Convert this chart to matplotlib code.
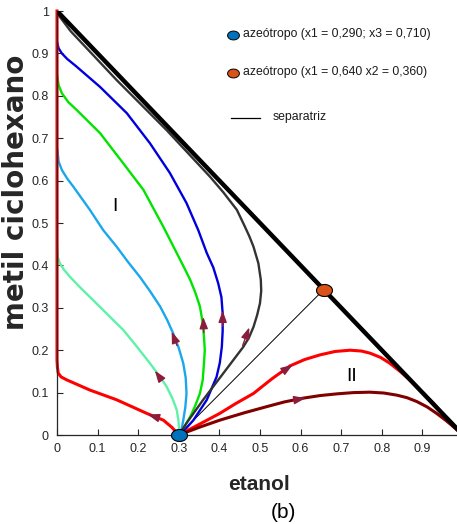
import matplotlib
matplotlib.use("Agg")
import matplotlib.pyplot as plt
import numpy as np

# residue curves (x = etanol, y = metil ciclohexano)
red1_x = [0.30, 0.283, 0.262, 0.221, 0.147, 0.081, 0.024, 0.010, 0.003, 0.001, 0.0, 0.0]
red1_y = [0.0, 0.018, 0.035, 0.051, 0.083, 0.106, 0.130, 0.137, 0.146, 0.160, 0.177, 1.0]

aqua_x = [0.30, 0.301, 0.299, 0.295, 0.284, 0.270, 0.251, 0.229, 0.197, 0.163, 0.126, 0.089, 0.058,
          0.032, 0.017, 0.007, 0.002, 0.0]
aqua_y = [0.0, 0.012, 0.035, 0.059, 0.087, 0.114, 0.141, 0.169, 0.208, 0.248, 0.283, 0.318, 0.347,
          0.373, 0.390, 0.405, 0.420, 0.444]

lblue_x = [0.30, 0.305, 0.311, 0.316, 0.319, 0.317, 0.311, 0.300, 0.286, 0.271, 0.254, 0.230, 0.204,
           0.175, 0.147, 0.114, 0.081, 0.040, 0.025, 0.012, 0.004, 0.001]
lblue_y = [0.0, 0.004, 0.035, 0.065, 0.098, 0.135, 0.169, 0.205, 0.240, 0.272, 0.303, 0.338, 0.373,
           0.408, 0.444, 0.483, 0.531, 0.586, 0.605, 0.625, 0.645, 0.672]

green_x = [0.30, 0.307, 0.328, 0.340, 0.352, 0.359, 0.362, 0.364, 0.362, 0.358, 0.352, 0.341, 0.328,
           0.312, 0.295, 0.262, 0.213, 0.163, 0.106, 0.048, 0.028, 0.012, 0.004, 0.001]
green_y = [0.0, 0.008, 0.043, 0.068, 0.098, 0.130, 0.169, 0.200, 0.232, 0.270, 0.303, 0.335, 0.366,
           0.397, 0.429, 0.491, 0.578, 0.641, 0.712, 0.767, 0.785, 0.806, 0.825, 0.845]

blue_x = [0.30, 0.307, 0.336, 0.369, 0.393, 0.401, 0.406, 0.408, 0.408, 0.405, 0.397, 0.385, 0.369,
          0.348, 0.319, 0.278, 0.229, 0.172, 0.106, 0.048, 0.025, 0.012, 0.004, 0.001]
blue_y = [0.0, 0.004, 0.035, 0.083, 0.137, 0.170, 0.208, 0.245, 0.287, 0.325, 0.358, 0.395, 0.429,
          0.483, 0.547, 0.618, 0.688, 0.759, 0.821, 0.869, 0.887, 0.900, 0.912, 0.924]

gray_x = [0.30, 0.319, 0.360, 0.410, 0.459, 0.473, 0.484, 0.493, 0.500, 0.503, 0.502, 0.496, 0.484,
          0.474, 0.463, 0.443, 0.410, 0.377, 0.27, 0.147, 0.034, 0.0]
gray_y = [0.0, 0.028, 0.083, 0.146, 0.208, 0.230, 0.255, 0.283, 0.311, 0.340, 0.366, 0.405, 0.444,
          0.468, 0.491, 0.531, 0.572, 0.609, 0.719, 0.837, 0.952, 0.995]

red2_x = [0.30, 0.35, 0.401, 0.44, 0.484, 0.53, 0.574, 0.61, 0.648, 0.685, 0.722, 0.75, 0.771, 0.797,
          0.820, 0.845, 0.869, 0.90, 0.927, 0.952, 0.976, 1.0]
red2_y = [0.0, 0.025, 0.051, 0.074, 0.098, 0.133, 0.163, 0.178, 0.189, 0.197, 0.200, 0.198, 0.193,
          0.183, 0.169, 0.150, 0.130, 0.100, 0.075, 0.047, 0.020, 0.0]

dred_x = [0.30, 0.35, 0.401, 0.46, 0.517, 0.56, 0.607, 0.648, 0.689, 0.73, 0.771, 0.805, 0.837, 0.862,
          0.886, 0.912, 0.935, 0.957, 0.976, 1.0]
dred_y = [0.0, 0.018, 0.035, 0.052, 0.067, 0.078, 0.087, 0.093, 0.097, 0.100, 0.101, 0.099, 0.094,
          0.088, 0.079, 0.066, 0.051, 0.035, 0.020, 0.0]

# arrows: (tail_x, tail_y, tip_x, tip_y)
arrows = [(0.245, 0.042, 0.217, 0.050),
          (0.262, 0.124, 0.237, 0.157),
          (0.298, 0.205, 0.280, 0.250),
          (0.362, 0.235, 0.360, 0.285),
          (0.408, 0.250, 0.408, 0.300),
          (0.455, 0.205, 0.476, 0.260),
          (0.545, 0.143, 0.586, 0.169),
          (0.575, 0.081, 0.619, 0.088)]

az1 = (0.30, 0.0)
az2 = (0.657, 0.343)

legend_labels = ["azeótropo (x1 = 0,290; x3 = 0,710)",
                 "azeótropo (x1 = 0,640 x2 = 0,360)",
                 "separatriz"]

sans = ["Liberation Sans", "DejaVu Sans"]

fig = plt.figure(figsize=(4.57, 5.24), dpi=100)
ax = fig.add_axes([57 / 457, 89 / 524, 406 / 457, 424 / 524])
ax.set_xlim(0, 1)
ax.set_ylim(0, 1)

# triangle edge and separatrix
ax.plot([0, 1], [1, 0], color="black", lw=3.2, zorder=3)
ax.plot([az1[0], az2[0]], [az1[1], az2[1]], color="black", lw=0.7, zorder=2)

ax.plot(aqua_x, aqua_y, color="#5ef2a8", lw=1.7)
ax.plot(lblue_x, lblue_y, color="#1aa7ee", lw=1.7)
ax.plot(green_x, green_y, color="#00e400", lw=1.7)
ax.plot(blue_x, blue_y, color="#0000dc", lw=1.7)
ax.plot(gray_x, gray_y, color="#333333", lw=1.7)
ax.plot(red1_x, red1_y, color="#ff0000", lw=2.2, clip_on=False)
ax.plot(red2_x, red2_y, color="#ff0000", lw=2.2, zorder=2.5)
ax.plot(dred_x, dred_y, color="#800000", lw=2.2, zorder=2.5)

for x0, y0, x1, y1 in arrows:
    ax.annotate("", xy=(x1, y1), xytext=(x0, y0),
                arrowprops=dict(arrowstyle="-|>,head_length=0.5,head_width=0.18",
                                color="#8c1c3c", lw=1.0, mutation_scale=14),
                zorder=4)

t = np.linspace(0, 2 * np.pi, 40)
ell = list(zip(1.33 * np.cos(t), np.sin(t)))
ax.plot(*az1, marker=ell, ms=11.5, mfc="#0072bd", mec="black", mew=0.8, ls="", clip_on=False, zorder=6)
ax.plot(*az2, marker=ell, ms=11.5, mfc="#d95319", mec="black", mew=0.8, ls="", clip_on=False, zorder=6)

ax.text(0.143, 0.54, "I", fontsize=14, family=sans, ha="center", va="center")
ax.text(0.725, 0.137, "II", fontsize=14, family=sans, ha="center", va="center")

# legend-like annotations
ax.plot(0.433, 0.943, marker=ell, ms=8.5, mfc="#0072bd", mec="black", mew=0.7, ls="",
        transform=ax.transAxes, clip_on=False)
ax.plot(0.433, 0.854, marker=ell, ms=8.5, mfc="#d95319", mec="black", mew=0.7, ls="",
        transform=ax.transAxes, clip_on=False)
ax.plot([0.429, 0.50], [0.748, 0.748], color="black", lw=0.9, transform=ax.transAxes)
ax.text(0.458, 0.946, legend_labels[0], transform=ax.transAxes, fontsize=8.8, family=sans,
        va="center", color="#1a1a1a")
ax.text(0.458, 0.856, legend_labels[1], transform=ax.transAxes, fontsize=8.8, family=sans,
        va="center", color="#1a1a1a")
ax.text(0.530, 0.750, legend_labels[2], transform=ax.transAxes, fontsize=8.8, family=sans,
        va="center", color="#1a1a1a")

ax.spines["top"].set_visible(False)
ax.spines["right"].set_visible(False)
for s in ("left", "bottom"):
    ax.spines[s].set_color("#262626")
    ax.spines[s].set_linewidth(0.9)

ax.set_xticks(np.arange(0, 1.0, 0.1))
ax.set_xticklabels(["0", "0.1", "0.2", "0.3", "0.4", "0.5", "0.6", "0.7", "0.8", "0.9"])
ax.set_yticks(np.arange(0, 1.01, 0.1))
ax.set_yticklabels(["0", "0.1", "0.2", "0.3", "0.4", "0.5", "0.6", "0.7", "0.8", "0.9", "1"])
ax.tick_params(direction="in", length=4, width=0.8, color="#262626", labelcolor="#262626",
               labelsize=9, pad=6)
for lab in ax.get_xticklabels() + ax.get_yticklabels():
    lab.set_family(sans)

ax.set_xlabel("etanol", fontsize=15, fontweight="bold", family=sans, color="#262626")
ax.xaxis.set_label_coords(0.4975, -0.094)
ax.set_ylabel("metil ciclohexano", fontsize=20, fontweight="bold", family=["DejaVu Sans"],
              color="#262626")
ax.yaxis.set_label_coords(-0.0665, 0.573)
fig.text(283 / 457, 1 - 512 / 524, "(b)", fontsize=15, family=sans, ha="center", va="center")

fig.savefig("out.png", dpi=100)
